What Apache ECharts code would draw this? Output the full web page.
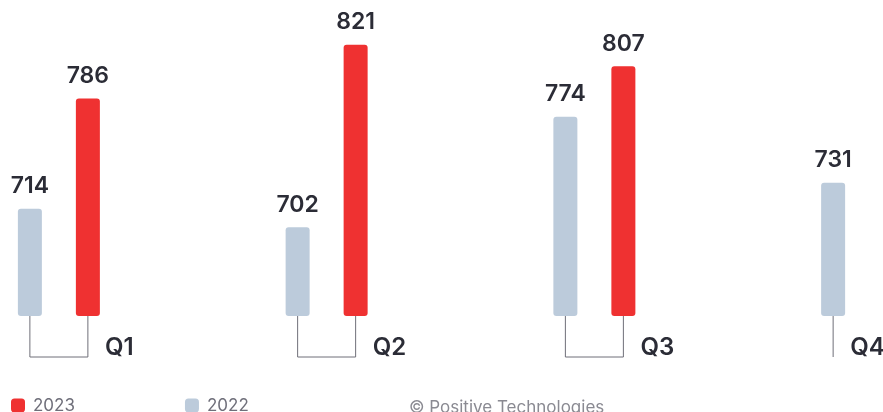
<!DOCTYPE html>
<html>
<head>
<meta charset="utf-8">
<script src="https://cdn.jsdelivr.net/npm/echarts@6/dist/echarts.min.js"></script>
<style>
  html, body { margin: 0; padding: 0; background: #ffffff; }
  #chart { width: 883px; height: 412px; }
</style>
</head>
<body>
<div id="chart"></div>
<script>
// Quarterly figures, 2022 vs 2023
const quarters = ['Q1', 'Q2', 'Q3', 'Q4'];
const values2022 = [714, 702, 774, 731];
const values2023 = [786, 821, 807, null];
const seriesNames = ['2022', '2023'];
const legendOrder = ['2023', '2022'];
const footerText = '© Positive Technologies';

const RED = '#ef3131';
const GREY = '#bccbdb';
const TEXT = '#2b2c36';
const LINE = '#6f6f78';
const FONT = 'Inter, "Noto Sans", sans-serif';

const BAR_W = 24;
const BAR_GAP = 34;                 // px between the two bars of a quarter
const HALF_STEP = (BAR_W + BAR_GAP) / 2;

const yMin = 644;
const yMax = 830;

const chart = echarts.init(document.getElementById('chart'), null, { renderer: 'canvas' });

// Bracket under each quarter's bars plus the quarter label
function renderBracket(params, api) {
  const i = api.value(0);
  const base = api.coord([i, yMin]);
  const cx = base[0], y0 = base[1];
  const drop = 41;
  const xs = [];
  if (values2022[i] != null) xs.push(cx - HALF_STEP);
  if (values2023[i] != null) xs.push(cx + HALF_STEP);
  const children = [];
  const lineStyle = { stroke: LINE, lineWidth: 1 };
  xs.forEach(function (x) {
    children.push({ type: 'line', shape: { x1: x, y1: y0, x2: x, y2: y0 + drop }, style: lineStyle });
  });
  if (xs.length > 1) {
    children.push({ type: 'line', shape: { x1: xs[0], y1: y0 + drop, x2: xs[xs.length - 1], y2: y0 + drop }, style: lineStyle });
  }
  children.push({
    type: 'text',
    x: xs[xs.length - 1] + 17,
    y: y0 + 32,
    style: {
      text: quarters[i],
      fill: TEXT,
      font: '600 24px ' + FONT,
      textVerticalAlign: 'middle'
    }
  });
  return { type: 'group', children: children };
}

const valueLabel = {
  show: true,
  position: 'top',
  distance: 11,
  color: TEXT,
  fontFamily: FONT,
  fontSize: 23,
  fontWeight: 600
};

chart.setOption({
  animation: false,
  backgroundColor: '#ffffff',
  grid: {
    left: -75, width: 1071, top: 31, bottom: 96,
    containLabel: false,
    outerBoundsMode: 'none'
  },
  legend: {
    data: legendOrder,
    left: 11,
    top: 397,
    padding: 0,
    icon: 'roundRect',
    itemWidth: 14,
    itemHeight: 14,
    itemGap: 110,
    textStyle: { color: '#6f6f7a', fontSize: 17, fontFamily: FONT, padding: [0, 0, 0, 3] }
  },
  xAxis: {
    type: 'category',
    data: quarters,
    axisLine: { show: false },
    axisTick: { show: false },
    axisLabel: { show: false },
    splitLine: { show: false }
  },
  yAxis: {
    type: 'value',
    min: yMin,
    max: yMax,
    show: false,
    splitLine: { show: false }
  },
  graphic: [{
    type: 'text',
    left: 409,
    top: 399,
    style: { text: footerText, fill: '#8a8a92', font: '17px ' + FONT }
  }],
  series: [
    {
      name: seriesNames[0],
      type: 'bar',
      data: values2022,
      barWidth: BAR_W,
      barGap: (BAR_GAP / BAR_W * 100) + '%',
      itemStyle: { color: GREY, borderRadius: 3 },
      label: valueLabel
    },
    {
      name: seriesNames[1],
      type: 'bar',
      data: values2023,
      barWidth: BAR_W,
      itemStyle: { color: RED, borderRadius: 3 },
      label: valueLabel
    },
    {
      type: 'custom',
      data: quarters.map(function (q, i) { return [i]; }),
      renderItem: renderBracket,
      silent: true,
      z: 1
    }
  ]
});
</script>
</body>
</html>
